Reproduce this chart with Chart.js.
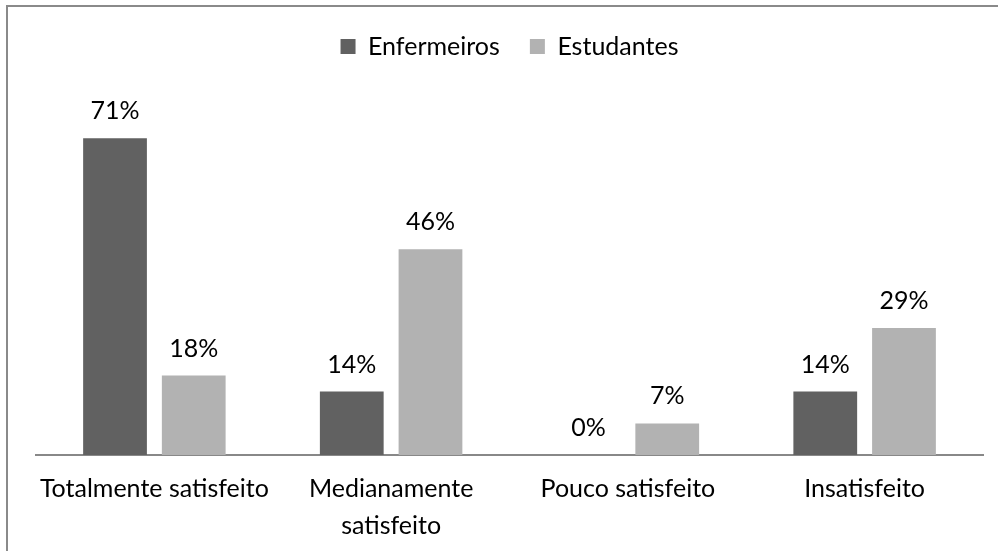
<!DOCTYPE html>
<html><head><meta charset="utf-8">
<style>html,body{margin:0;padding:0;background:#fff;}#wrap{width:998px;height:551px;position:relative;}</style>
<script src="https://cdn.jsdelivr.net/npm/chart.js@4.4.1/dist/chart.umd.min.js"></script>
</head><body><div id="wrap"><canvas id="c" width="998" height="551"></canvas></div>
<script>
const categories = ['Totalmente satisfeito', ['Medianamente', 'satisfeito'], 'Pouco satisfeito', 'Insatisfeito'];
const seriesNames = ['Enfermeiros', 'Estudantes'];
const enfermeiros = [71.4, 14.3, 0, 14.3];
const estudantes = [17.9, 46.4, 7.1, 28.6];
const valueLabels = [['71%', '14%', '0%', '14%'], ['18%', '46%', '7%', '29%']];

const FONT = 'Lato';
const FS = 25;

const frame = {
  id: 'frame',
  beforeDraw(chart) {
    const ctx = chart.ctx;
    ctx.save();
    ctx.strokeStyle = '#8a8a8a';
    ctx.lineWidth = 2;
    ctx.beginPath();
    ctx.moveTo(7, 551);
    ctx.lineTo(7, 6);
    ctx.lineTo(998, 6);
    ctx.stroke();
    ctx.restore();
  }
};
const valueLabelPlugin = {
  id: 'valueLabels',
  afterDatasetsDraw(chart) {
    const ctx = chart.ctx;
    ctx.save();
    ctx.font = FS + 'px ' + FONT;
    ctx.fillStyle = '#000';
    ctx.textAlign = 'center';
    ctx.textBaseline = 'alphabetic';
    chart.data.datasets.forEach((ds, i) => {
      chart.getDatasetMeta(i).data.forEach((bar, j) => {
        ctx.fillText(valueLabels[i][j], bar.x, bar.y - 19);
      });
    });
    ctx.restore();
  }
};

new Chart(document.getElementById('c'), {
  type: 'bar',
  data: {
    labels: categories,
    datasets: [
      { label: seriesNames[0], data: enfermeiros, backgroundColor: '#616161' },
      { label: seriesNames[1], data: estudantes, backgroundColor: '#b2b2b2' }
    ]
  },
  options: {
    responsive: false,
    animation: false,
    devicePixelRatio: 1,
    categoryPercentage: 0.665,
    barPercentage: 0.81,
    layout: { padding: { left: 36, right: 15, top: 4, bottom: 0 } },
    plugins: {
      tooltip: { enabled: false },
      legend: {
        position: 'top',
        labels: {
          boxWidth: 15, boxHeight: 15, padding: 30,
          color: '#000',
          font: { family: FONT, size: FS }
        }
      }
    },
    scales: {
      x: {
        grid: { display: false, drawTicks: false },
        border: { display: true, color: '#888888', width: 2 },
        ticks: { color: '#000', font: { family: FONT, size: FS, lineHeight: 1.48 }, padding: 15, maxRotation: 0, autoSkip: false },
        afterFit(scale) { scale.height = 96; }
      },
      y: { display: false, min: 0, max: 87 }
    }
  },
  plugins: [frame, valueLabelPlugin]
});
</script></body></html>
